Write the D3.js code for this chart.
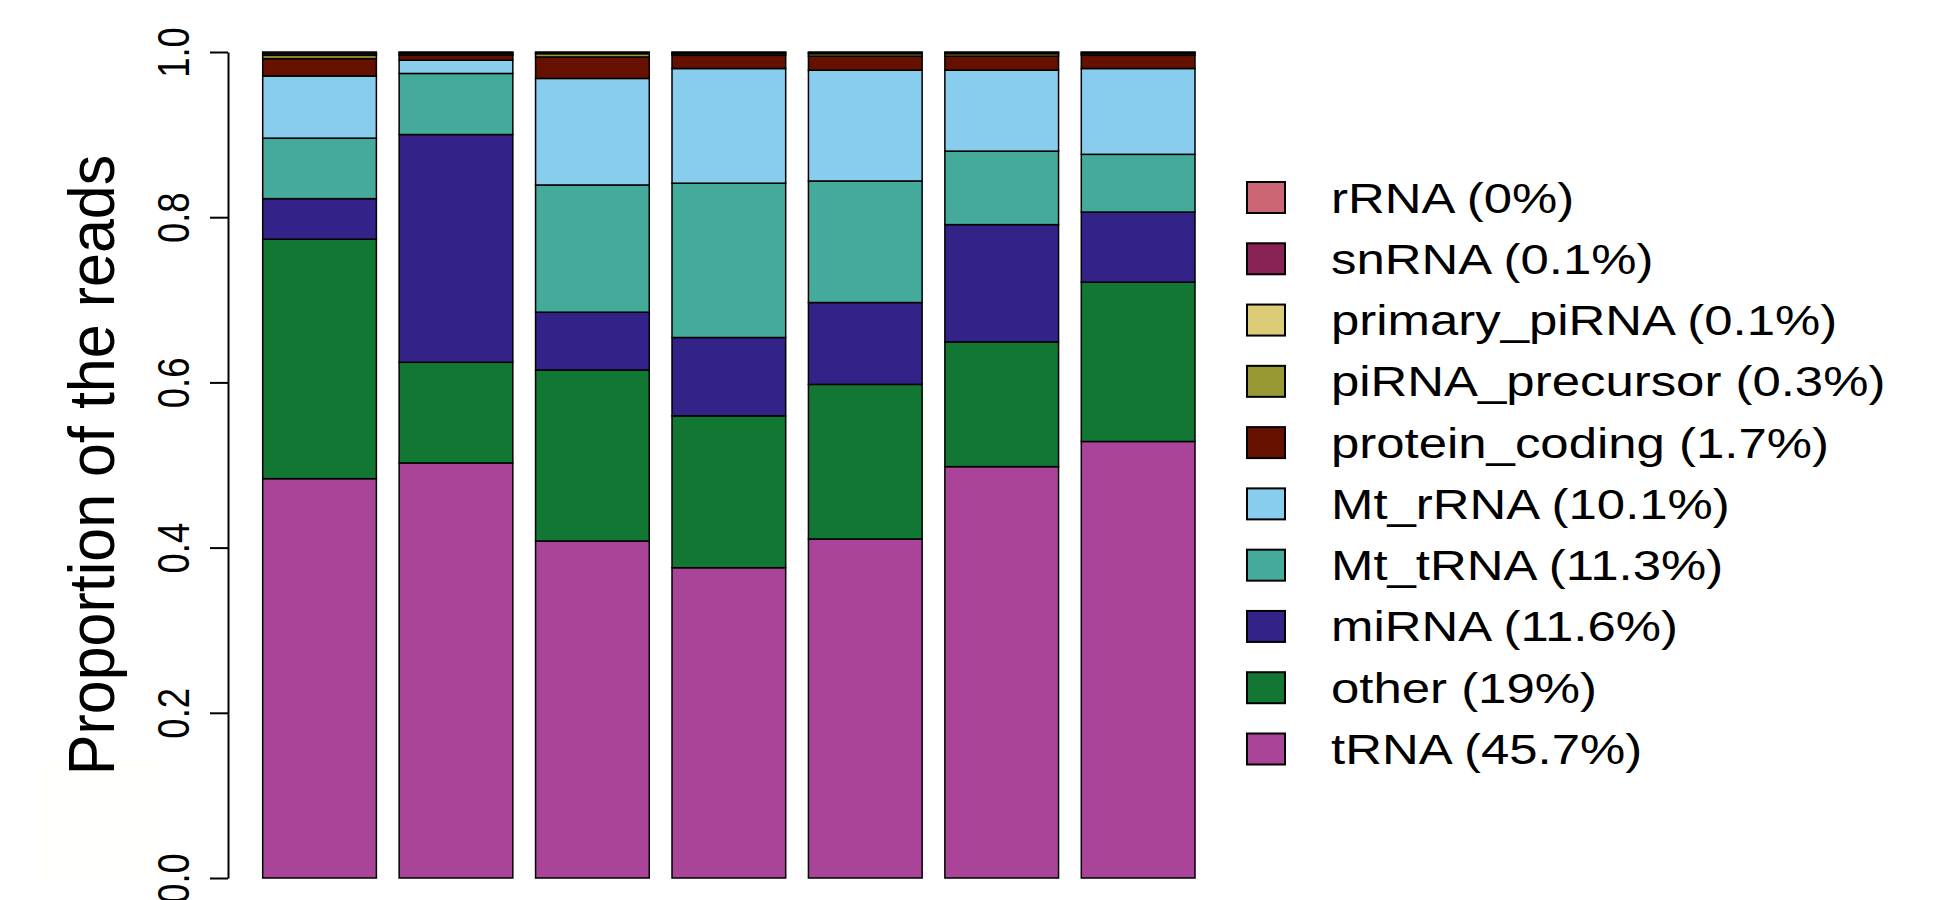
<!DOCTYPE html>
<html lang="en">

<head>
    <meta charset="UTF-8">
    <title>Proportion of the reads</title>
    <style>
        body {
            margin: 0;
            background: #fff;
        }

        text {
            font-family: "Liberation Sans", Arial, sans-serif;
            fill: #000;
        }
    </style>
</head>

<body>
    <script src="https://cdn.jsdelivr.net/npm/d3@7"></script>
    <script>
        // samples (no labels shown under the bars)
        const samples = ['S1', 'S2', 'S3', 'S4', 'S5', 'S6', 'S7'];

        // stack order, bottom to top
        const categories = ['tRNA', 'other', 'miRNA', 'Mt_tRNA', 'Mt_rRNA',
            'protein_coding', 'piRNA_precursor', 'primary_piRNA', 'snRNA', 'rRNA'];
        const colors = ['#AA4499', '#117733', '#332288', '#44AA99', '#88CCEE',
            '#661100', '#999933', '#DDCC77', '#882255', '#CC6677'];
        const legend_pct = ['45.7', '19', '11.6', '11.3', '10.1', '1.7', '0.3', '0.1', '0.1', '0'];

        // proportion per sample
        const tRNA = [0.482, 0.503, 0.408, 0.376, 0.410, 0.498, 0.529];
        const other = [0.289, 0.122, 0.207, 0.184, 0.187, 0.151, 0.193];
        const miRNA = [0.049, 0.276, 0.070, 0.095, 0.099, 0.142, 0.085];
        const Mt_tRNA = [0.073, 0.074, 0.154, 0.187, 0.147, 0.089, 0.070];
        const Mt_rRNA = [0.075, 0.016, 0.129, 0.139, 0.134, 0.098, 0.104];
        const protein_coding = [0.021, 0.006, 0.026, 0.016, 0.017, 0.017, 0.016];
        const piRNA_precursor = [0.004, 0.002, 0.004, 0.002, 0.003, 0.003, 0.002];
        const primary_piRNA = [0.002, 0.001, 0.001, 0.001, 0.001, 0.001, 0.001];
        const snRNA = [0.002, 0.001, 0.001, 0.001, 0.001, 0.001, 0.001];
        const rRNA = [0, 0, 0, 0, 0, 0, 0];

        const y_ticks = [0, 0.2, 0.4, 0.6, 0.8, 1.0];

        const series_values = [tRNA, other, miRNA, Mt_tRNA, Mt_rRNA,
            protein_coding, piRNA_precursor, primary_piRNA, snRNA, rRNA];

        const svg_w = 1941;
        const svg_h = 900;
        const sx = 1.2; // text in the reference is stretched sideways

        const table = samples.map((s, i) => {
            const row = { sample: s };
            categories.forEach((c, k) => row[c] = series_values[k][i]);
            return row;
        });

        const stacked = d3.stack()
            .keys(categories)
            .offset(d3.stackOffsetExpand)(table);

        const x_scale = d3.scaleBand(samples, [262.7, 1195])
            .paddingInner(1 / 6)
            .paddingOuter(0);

        const y_scale = d3.scaleLinear([0, 1], [878, 52]);

        const svg = d3.select('body')
            .append('svg')
            .attr('width', svg_w)
            .attr('height', svg_h);

        // very faint block at lower left
        svg.append('rect')
            .attr('x', 40).attr('y', 762)
            .attr('width', 120).attr('height', 120)
            .attr('fill', '#fffffc');

        // bars
        svg.append('g')
            .selectAll('g')
            .data(stacked)
            .join('g')
            .attr('fill', (d, i) => colors[i])
            .selectAll('rect')
            .data(d => d)
            .join('rect')
            .attr('x', d => x_scale(d.data.sample))
            .attr('width', x_scale.bandwidth())
            .attr('y', d => y_scale(d[1]))
            .attr('height', d => y_scale(d[0]) - y_scale(d[1]))
            .attr('stroke', '#000')
            .attr('stroke-width', 1.5);

        // y axis
        const y_axis = d3.axisLeft(y_scale)
            .tickValues(y_ticks)
            .tickFormat(d3.format('.1f'))
            .tickSize(18)
            .tickSizeOuter(0);

        const gy = svg.append('g')
            .attr('transform', 'translate(228, 0)')
            .call(y_axis);

        gy.select('.domain').attr('stroke-width', 2);
        gy.selectAll('.tick line').attr('stroke-width', 2);
        gy.selectAll('.tick text')
            .attr('x', null).attr('dy', null)
            .attr('text-anchor', 'middle')
            .attr('font-size', 36.5)
            .attr('fill', '#000')
            .attr('font-family', '"Liberation Sans", Arial, sans-serif')
            .attr('transform', 'translate(-39, 0) scale(' + sx + ', 1) rotate(-90)');

        // y label
        svg.append('text')
            .attr('transform', 'translate(114, 465) scale(1.05, 1) rotate(-90)')
            .attr('text-anchor', 'middle')
            .attr('font-size', 61)
            .text('Proportion of the reads');

        // legend, listed top to bottom
        const legend_order = d3.range(categories.length).reverse();
        const legend_y = d3.scalePoint(legend_order, [197.5, 749]);

        const legend = svg.append('g')
            .selectAll('g')
            .data(legend_order)
            .join('g')
            .attr('transform', k => `translate(0, ${legend_y(k)})`);

        legend.append('rect')
            .attr('x', 1247).attr('y', -15.5)
            .attr('width', 38).attr('height', 31)
            .attr('fill', k => colors[k])
            .attr('stroke', '#000')
            .attr('stroke-width', 2);

        legend.append('text')
            .attr('transform', `translate(1331, 15) scale(${sx * 1.01}, 1)`)
            .attr('font-size', 42)
            .text(k => `${categories[k]} (${legend_pct[k]}%)`);
    </script>
</body>

</html>
